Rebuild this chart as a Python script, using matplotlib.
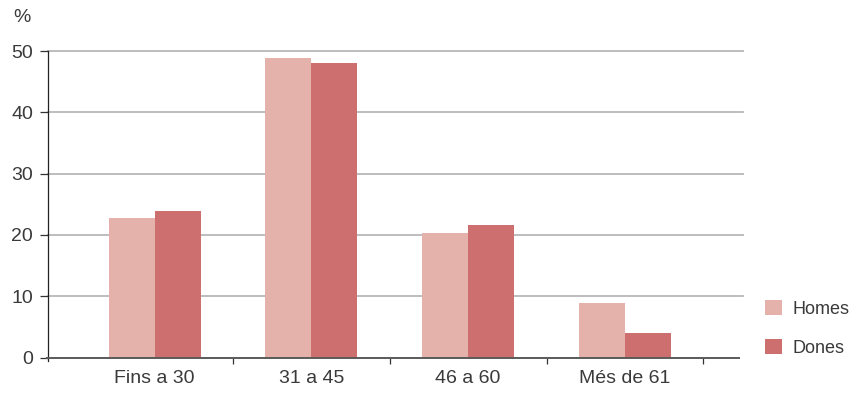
import matplotlib
matplotlib.use("Agg")
import matplotlib.pyplot as plt
import numpy as np

plt.rcParams['font.family'] = ['Liberation Sans', 'DejaVu Sans']

# age groups and share (%) by sex
grups = ['Fins a 30', '31 a 45', '46 a 60', 'Més de 61']
homes = [22.8, 48.9, 20.3, 8.9]
dones = [23.9, 48.0, 21.6, 4.0]
yticks = [0, 10, 20, 30, 40, 50]

COL_HOMES = '#E5B1AB'
COL_DONES = '#CD6F6E'
TXT = '#3a3a3a'
FS = 14
FS_LEG = 13

fig = plt.figure(figsize=(8.51, 3.94), dpi=100)
ax = fig.add_axes([47.5 / 851, 36.5 / 394, 695.5 / 851, 306.5 / 394])

x = np.arange(len(grups))
w = 0.293
ax.bar(x - w / 2, homes, w, color=COL_HOMES, label='Homes', zorder=3)
ax.bar(x + w / 2, dones, w, color=COL_DONES, label='Dones', zorder=3)

ax.set_xlim(-0.683, 3.753)
ax.set_ylim(0, 50)

# horizontal grid
for v in yticks[1:]:
    ax.axhline(v, color='#bdbdbd', lw=1.4, zorder=1, clip_on=False)

for s in ['top', 'right']:
    ax.spines[s].set_visible(False)
ax.spines['left'].set_color('#222222')
ax.spines['left'].set_linewidth(0.9)
ax.spines['left'].set_bounds(-0.6, 50)
ax.spines['bottom'].set_color('#5a5a5a')
ax.spines['bottom'].set_linewidth(1.4)
ax.spines['bottom'].set_bounds(-0.683, 3.73)
ax.spines['bottom'].set_zorder(4)

ax.set_yticks(yticks)
ax.set_yticklabels([str(v) for v in yticks], fontsize=FS, color=TXT)
ax.tick_params(axis='y', length=5.5, width=0.9, color='#333333', pad=5)

ax.set_xticks(x)
ax.set_xticklabels(grups, fontsize=FS, color=TXT)
ax.tick_params(axis='x', which='major', length=0, pad=9)
ax.set_xticks(x + 0.5, minor=True)
ax.tick_params(axis='x', which='minor', length=4, width=0.9, color='#333333')

fig.text(13 / 851, 1 - 18 / 394, '%', fontsize=FS, color=TXT, va='center', ha='left')

leg = fig.legend(loc='upper left', bbox_to_anchor=(765 / 851, 1 - 300 / 394),
                 frameon=False, fontsize=FS_LEG, handlelength=0.94, handleheight=0.94,
                 handletextpad=0.58, labelspacing=1.15, borderpad=0, borderaxespad=0)
for t in leg.get_texts():
    t.set_color(TXT)

fig.savefig('out.png', dpi=100)
